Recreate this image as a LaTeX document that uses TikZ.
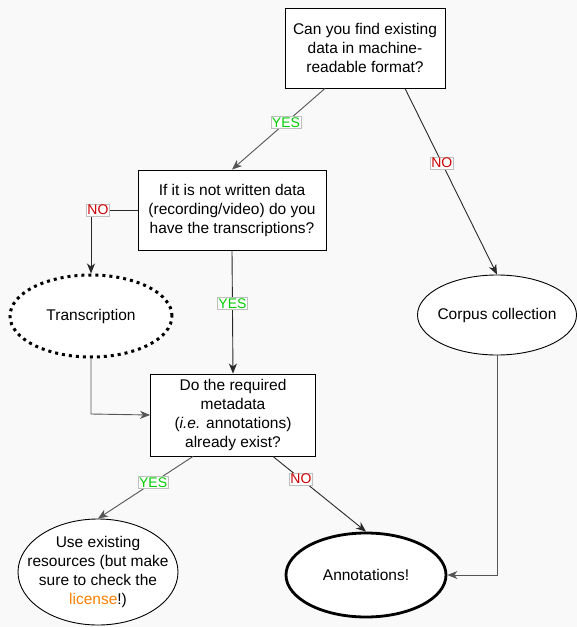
\documentclass[tikz,border=0pt]{standalone}
\usepackage{fontspec}
\setmainfont{Liberation Sans}
\usetikzlibrary{arrows.meta,shapes.geometric}
\definecolor{bg}{RGB}{249,249,249}
\definecolor{yesc}{RGB}{0,204,0}
\definecolor{noc}{RGB}{204,0,0}
\definecolor{lic}{RGB}{255,128,0}
\definecolor{ln}{RGB}{40,40,40}
\definecolor{ln2}{RGB}{85,85,85}
\tikzset{
  every node/.style={font=\fontsize{15.5}{19}\selectfont},
  qbox/.style={draw=black, fill=white, line width=0.9pt, rectangle, align=center, inner sep=0pt},
  oval/.style={draw=black, fill=white, line width=0.9pt, ellipse, align=center, inner xsep=-15pt, inner ysep=-2pt},
  conn/.style={draw=ln, line width=0.9pt, -{Stealth[length=10pt,width=8pt,inset=3pt]}},
  conn2/.style={draw=ln2, line width=0.9pt, -{Stealth[length=10pt,width=8pt,inset=3pt]}},
  lab/.style={fill=white, draw=black!25, line width=0.5pt, inner sep=1pt, font=\fontsize{14}{16}\selectfont},
  yeslab/.style={lab, text=yesc},
  nolab/.style={lab, text=noc},
}
\begin{document}
\begin{tikzpicture}[x=1pt,y=-1pt]
\fill[bg] (0,0) rectangle (577,627);
\useasboundingbox (0,0) rectangle (577,627);

\node[qbox, minimum width=160pt, minimum height=80pt] (q1) at (365,48) {Can you find existing\\data in machine-\\readable format?};
\node[qbox, minimum width=188pt, minimum height=80pt] (q2) at (232,210) {If it is not written data\\(recording/video) do you\\have the transcriptions?};
\node[oval, minimum width=162pt, minimum height=82pt, line width=3pt, dash pattern=on 3pt off 4pt] (tr) at (91,316) {Transcription};
\node[oval, minimum width=159pt, minimum height=80pt] (cc) at (497,315) {Corpus collection};
\node[qbox, minimum width=165pt, minimum height=82pt] (q3) at (233,415) {Do the required\\metadata\\(\textit{i.e.} annotations)\\already exist?};
\node[oval, minimum width=160pt, minimum height=106pt] (ue) at (98,572) {Use existing\\resources (but make\\sure to check the\\\textcolor{lic}{license}!)};
\node[oval, minimum width=160pt, minimum height=84pt, line width=2.8pt] (an) at (366,575) {Annotations!};

\coordinate (c1) at (91,210);
\coordinate (c2) at (91,414);
\coordinate (c3) at (497,575);

\draw[conn2] (q1.south west -| 325,0) -- node[yeslab, pos=0.42] {YES} (q2.north -| 232,0);
\draw[conn] (q1.south -| 405,0) -- node[nolab, pos=0.4] {NO} (cc.north);
\draw[conn] (q2.west) -- node[nolab, pos=0.85] {NO} (c1) -- (tr.north);
\draw[conn] (q2.south) -- node[yeslab, pos=0.43] {YES} (q3.north);
\draw[conn2] (tr.south) -- (c2) -- (q3.west);
\draw[conn2] (q3.south -| 193,0) -- node[yeslab, pos=0.42] {YES} (ue.north);
\draw[conn] (q3.south -| 273,0) -- node[nolab, pos=0.3] {NO} (an.north);
\draw[conn2] (cc.south) -- (c3) -- (an.east);
\end{tikzpicture}
\end{document}
